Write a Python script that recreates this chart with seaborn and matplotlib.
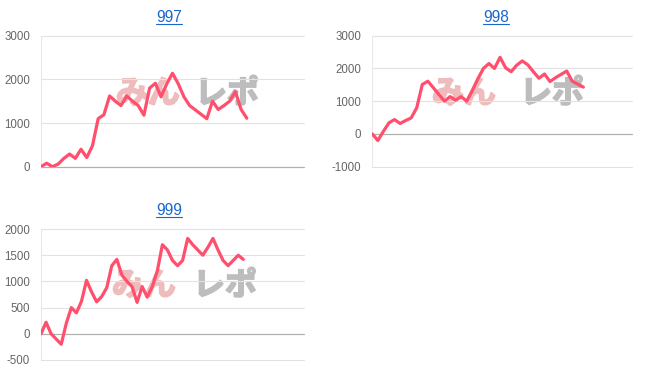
import matplotlib
matplotlib.use("Agg")
import matplotlib.pyplot as plt
from matplotlib.lines import Line2D
import matplotlib.patheffects as pe
import seaborn as sns
import pandas as pd

# ---- data ----
titles = ["997", "998", "999"]
values_997 = [0, 80, 0, 60, 190, 290, 190, 400, 210, 480, 1100, 1190, 1620, 1500,
              1400, 1620, 1500, 1400, 1180, 1800, 1910, 1600, 1900, 2140, 1900,
              1600, 1400, 1300, 1200, 1100, 1500, 1310, 1400, 1500, 1720, 1310, 1110]
values_998 = [0, -200, 80, 340, 440, 320, 410, 490, 800, 1510, 1610, 1410, 1200,
              1000, 1140, 1030, 1140, 1000, 1320, 1680, 2000, 2150, 2000, 2340,
              2020, 1900, 2100, 2230, 2110, 1900, 1700, 1830, 1600, 1720, 1820,
              1920, 1610, 1520, 1430]
values_999 = [0, 220, 0, -100, -200, 200, 500, 400, 620, 1020, 800, 610, 710, 880,
              1300, 1420, 1120, 1000, 900, 600, 900, 700, 900, 1200, 1700, 1600,
              1400, 1300, 1400, 1820, 1700, 1600, 1500, 1650, 1820, 1600, 1400,
              1300, 1400, 1500, 1420]
yticks_997 = [0, 1000, 2000, 3000]
yticks_998 = [-1000, 0, 1000, 2000, 3000]
yticks_999 = [-500, 0, 500, 1000, 1500, 2000]
series = [values_997, values_998, values_999]
yticks = [yticks_997, yticks_998, yticks_999]
xmax = [46.0, 46.7, 52.0]
watermark_left = "みん"
watermark_right = "レポ"

# ---- layout (pixels) ----
W, H = 652, 382
LINE_COLOR = "#ff4f6d"
GRID = "#e2e2e2"
ZERO = "#b0b0b0"
TITLE_COLOR = "#1a66cc"
WM_PINK = "#eebcbc"
WM_GREY = "#bdbdbd"

sns.set_theme(style="white")
plt.rcParams["font.family"] = ["Liberation Sans", "DejaVu Sans"]

fig = plt.figure(figsize=(W / 100, H / 100), dpi=100)
fig.patch.set_facecolor("white")


def rect(l, r, t, b):
    return [l / W, 1 - b / H, (r - l) / W, (b - t) / H]


boxes = [rect(41, 304, 35.7, 166.7), rect(372.3, 631.7, 35.7, 166.7), rect(41, 304, 229, 360)]
title_pos = [(168.7, 17.5), (495.8, 17.5), (168.7, 210.8)]
wm_pos = [(148, 227, 94), (464, 552, 94), (144, 225, 286)]

titles_txt = []
for i in range(3):
    ax = fig.add_axes(boxes[i])
    ax.set_zorder(3)
    df = pd.DataFrame({"x": range(len(series[i])), "y": series[i]})
    sns.lineplot(data=df, x="x", y="y", ax=ax, color=LINE_COLOR, linewidth=2.3,
                 zorder=5)
    ax.set_xlim(0, xmax[i])
    ax.set_ylim(yticks[i][0], yticks[i][-1])
    ax.set_yticks(yticks[i])
    ax.set_yticklabels([str(v) for v in yticks[i]])
    ax.set_xticks([])
    ax.set_xlabel("")
    ax.set_ylabel("")
    ax.tick_params(axis="y", length=0, pad=7.9, labelsize=8.3, labelcolor="#666666")
    for s in ax.spines.values():
        s.set_visible(False)
    ax.set_facecolor("none")
    for v in yticks[i]:
        ax.axhline(v, color=ZERO if v == 0 else GRID, lw=0.9 if v == 0 else 0.8,
                   zorder=1, clip_on=False)
    ax.axvline(0, color="#e8e8e8", lw=0.8, zorder=1)
    # watermark (behind the axes content)
    px, gx, wy = wm_pos[i]
    for txt, cx, col in ((watermark_left, px, WM_PINK), (watermark_right, gx, WM_GREY)):
        fig.text(cx / W, 1 - wy / H, txt, ha="center", va="center",
                 fontsize=23, fontweight="bold", color=col,
                 family=["Noto Sans CJK JP", "DejaVu Sans"], zorder=0.5,
                 path_effects=[pe.withStroke(linewidth=1.3, foreground=col)])
    tx, ty = title_pos[i]
    t = fig.text(tx / W, 1 - ty / H, titles[i], ha="center", va="center",
                 fontsize=11.2, color=TITLE_COLOR, zorder=4)
    titles_txt.append(t)

fig.canvas.draw()
r = fig.canvas.get_renderer()
for t in titles_txt:
    bb = t.get_window_extent(r)
    y = bb.y0 + 1.5
    fig.add_artist(Line2D([bb.x0 / W, bb.x1 / W], [y / H, y / H],
                          transform=fig.transFigure, color=TITLE_COLOR, lw=0.8,
                          zorder=4))

fig.savefig("out.png", dpi=100, facecolor="white")
